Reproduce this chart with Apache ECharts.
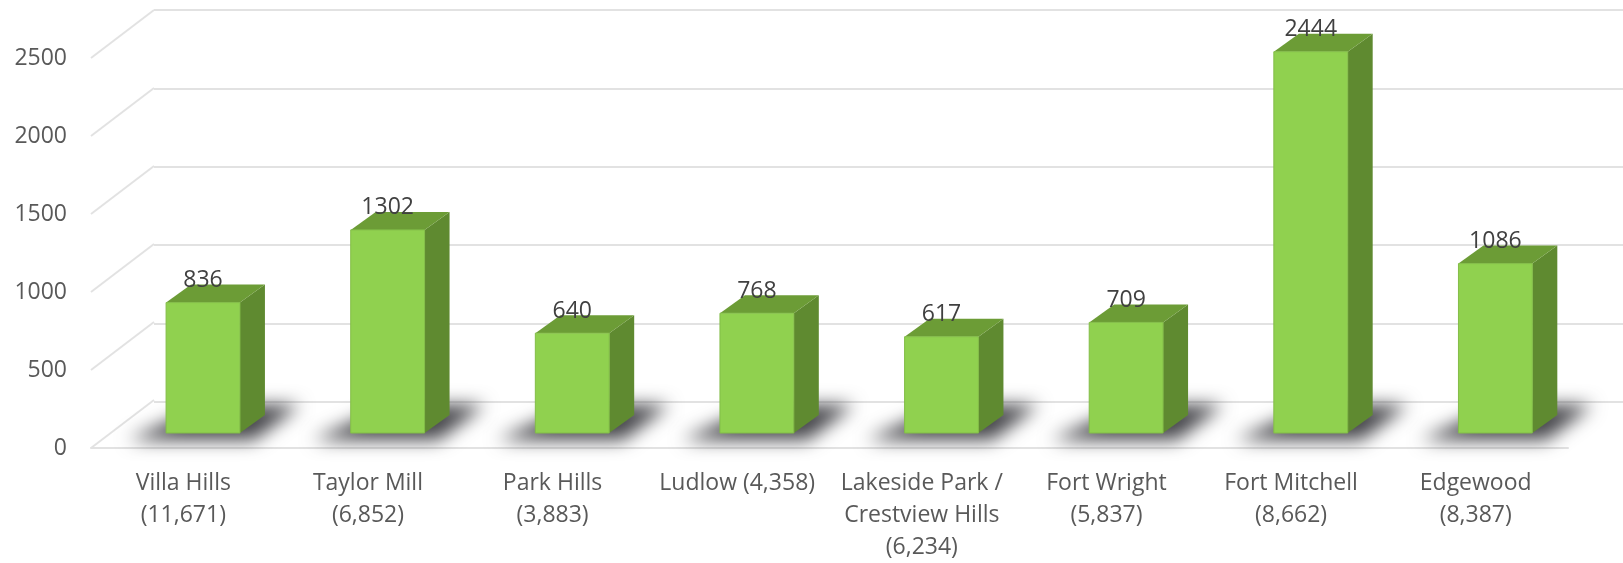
<!DOCTYPE html>
<html>
<head>
<meta charset="utf-8">
<style>html,body{margin:0;padding:0;background:#fff}#c{width:1623px;height:563px}</style>
<script src="https://cdn.jsdelivr.net/npm/echarts@6/dist/echarts.min.js"></script>
</head>
<body>
<div id="c"></div>
<script>
const categories = ["Villa Hills\n(11,671)","Taylor Mill\n(6,852)","Park Hills\n(3,883)","Ludlow (4,358)","Lakeside Park /\nCrestview Hills\n(6,234)","Fort Wright\n(5,837)","Fort Mitchell\n(8,662)","Edgewood\n(8,387)"];
const values = [836,1302,640,768,617,709,2444,1086];
const yTicks = [0,500,1000,1500,2000,2500];

const FONT = '"Open Sans", Lato, sans-serif';
const GRID_COLOR = '#e2e2e2';
const WALL = {dx:63, dy:48};     // front plane to back wall
const BASE = {dx:19.7, dy:15};   // front plane to bar front face
const DEPTH = {dx:25, dy:18};    // bar depth
const BAR_RATIO = 0.4;
const OFF = 3000;                // polygon sits off-page so only its blurred shadow shows

function barGeom(api){
  const i = api.value(0), v = api.value(1);
  const c = api.coord([i,0]), t = api.coord([i,v]);
  const w = api.size([1,0])[0]*BAR_RATIO;
  const l = c[0]+BASE.dx-w/2, r = l+w, b = c[1]-BASE.dy, top = t[1]-BASE.dy;
  return {l,r,b,top,w,v};
}
function renderBar(params,api){
  const g = barGeom(api);
  const d = DEPTH;
  return {type:'group',children:[
    {type:'polygon',shape:{points:[[g.r,g.top],[g.r+d.dx,g.top-d.dy],[g.r+d.dx,g.b-d.dy],[g.r,g.b]]},style:{fill:'#5f8a30'}},
    {type:'polygon',shape:{points:[[g.l,g.top],[g.l+d.dx,g.top-d.dy],[g.r+d.dx,g.top-d.dy],[g.r,g.top]]},style:{fill:'#6c9c36'}},
    {type:'rect',shape:{x:g.l,y:g.top,width:g.w,height:g.b-g.top},style:{fill:'#90d14f',stroke:'#83bd48',lineWidth:1}},
    {type:'text',style:{text:String(g.v),x:(g.l+g.r)/2,y:g.top-22,align:'center',verticalAlign:'middle',
      fill:'#404040',font:'23px '+FONT},z2:10}
  ]};
}
function renderShadow(params,api){
  const g = barGeom(api);
  const o = -OFF;
  return {type:'polygon',
    shape:{points:[[g.l-38+o,g.b+7],[g.r+14+o,g.b+7],[g.r+60+o,g.b-28],[g.l+40+o,g.b-28]]},
    style:{fill:'#000',shadowBlur:18,shadowOffsetX:OFF,shadowOffsetY:0,shadowColor:'rgba(70,70,75,1)'}};
}
function renderDiagonal(params,api){
  const p = api.coord([0,api.value(1)]);
  const x = params.coordSys.x;
  return {type:'line',shape:{x1:x,y1:p[1],x2:x+WALL.dx,y2:p[1]-WALL.dy},
    style:{stroke:GRID_COLOR,lineWidth:2}};
}

const chart = echarts.init(document.getElementById('c'),null,{renderer:'canvas'});
chart.setOption({
  animation:false,
  backgroundColor:'#fff',
  grid:[
    {left:91,right:55,top:58,height:392},
    {left:91+WALL.dx,right:0,top:10,height:392}
  ],
  xAxis:[
    {type:'category',gridIndex:0,data:categories,axisTick:{show:false},
      axisLine:{lineStyle:{color:GRID_COLOR,width:2}},
      axisLabel:{color:'#595959',fontFamily:FONT,fontSize:23,lineHeight:32,margin:19,interval:0}},
    {type:'category',gridIndex:1,data:categories,show:false}
  ],
  yAxis:[
    {type:'value',gridIndex:0,min:0,max:2500,interval:500,splitLine:{show:false},axisLine:{show:false},axisTick:{show:false},
      axisLabel:{color:'#595959',fontFamily:FONT,fontSize:23,margin:24,padding:[4,0,0,0],formatter:v=>String(v)}},
    {type:'value',gridIndex:1,min:0,max:2500,interval:500,axisLine:{show:false},axisTick:{show:false},axisLabel:{show:false},
      splitLine:{lineStyle:{color:GRID_COLOR,width:2}}}
  ],
  series:[
    {type:'custom',xAxisIndex:0,yAxisIndex:0,clip:false,z:1,silent:true,renderItem:renderDiagonal,
      data:yTicks.map(t=>[0,t])},
    {type:'custom',xAxisIndex:0,yAxisIndex:0,clip:false,z:2,silent:true,renderItem:renderShadow,
      data:values.map((v,i)=>[i,v])},
    {type:'custom',xAxisIndex:0,yAxisIndex:0,clip:false,z:3,renderItem:renderBar,
      data:values.map((v,i)=>[i,v])}
  ]
});
</script>
</body>
</html>
